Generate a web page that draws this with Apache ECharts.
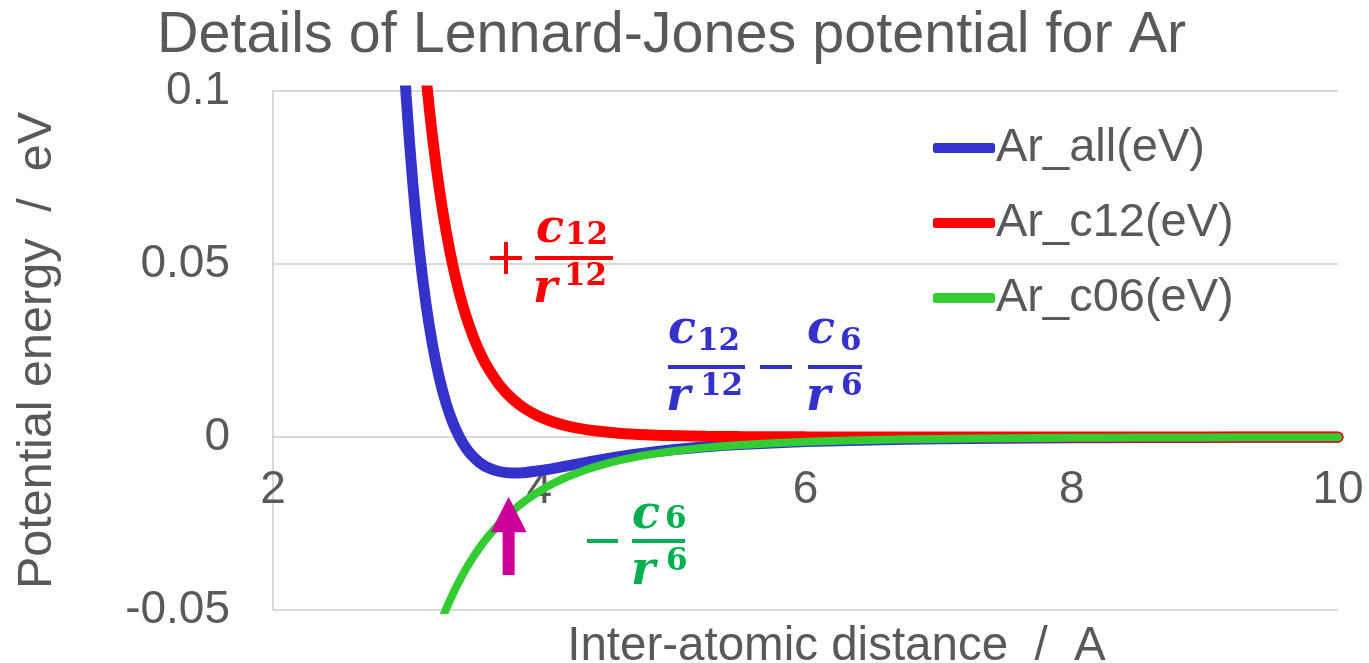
<!DOCTYPE html>
<html>
<head>
<meta charset="utf-8">
<title>Details of Lennard-Jones potential for Ar</title>
<script src="https://cdn.jsdelivr.net/npm/echarts@6/dist/echarts.min.js"></script>
<style>
  html, body { margin: 0; padding: 0; background: #ffffff; }
  #chart { width: 1369px; height: 663px; }
</style>
</head>
<body>
<div id="chart"></div>
<script>
// Inter-atomic distance (Angstrom)
const distance = [2.95, 3.0, 3.05, 3.1, 3.15, 3.2, 3.25, 3.3, 3.35, 3.4, 3.45, 3.5, 3.55, 3.6,
  3.7, 3.8, 3.9, 4.0, 4.1, 4.2, 4.3, 4.4, 4.6, 4.8, 5.0, 5.25, 5.5, 5.75, 6.0,
  6.5, 7.0, 7.5, 8.0, 8.5, 9.0, 9.5, 10.0];

// Total potential c12/r^12 - c6/r^6 (eV)
const arAll = [0.13104, 0.09865, 0.07336, 0.05363, 0.03824, 0.02626, 0.01696, 0.00976, 0.00423, 0.0,
  -0.00320, -0.00558, -0.00733, -0.00857, -0.00997, -0.01039, -0.01024, -0.00977, -0.00913,
  -0.00841, -0.00769, -0.00697, -0.00567, -0.00459, -0.00370, -0.00284, -0.00219, -0.00170,
  -0.001332, -0.000835, -0.000539, -0.000358, -0.000244, -0.000170, -0.000121, -0.000087, -0.000064];

// Repulsive part +c12/r^12 (eV)
const arC12 = [0.22855, 0.18680, 0.15319, 0.12604, 0.10402, 0.08611, 0.07149, 0.05952, 0.04970, 0.0416,
  0.03491, 0.02938, 0.02478, 0.02095, 0.01508, 0.01095, 0.00802, 0.00592, 0.00440,
  0.00330, 0.00248, 0.00189, 0.00111, 0.00066, 0.00041, 0.00023, 0.00013, 0.000076,
  0.0000456, 0.0000175, 0.0000072, 0.0000031, 0.0000014, 0.0000007, 0.0000004, 0.0000002, 0.0000001];

// Attractive part -c6/r^6 (eV)
const arC06 = [-0.09751, -0.08815, -0.07983, -0.07241, -0.06578, -0.05985, -0.05453, -0.04976, -0.04547, -0.0416,
  -0.03811, -0.03496, -0.03211, -0.02952, -0.02505, -0.02134, -0.01826, -0.01569, -0.01353,
  -0.01171, -0.01017, -0.00886, -0.00678, -0.00525, -0.00411, -0.00307, -0.00232, -0.00178,
  -0.001377, -0.000852, -0.000546, -0.000361, -0.000245, -0.000170, -0.000121, -0.0000874, -0.0000643];

const seriesNames = ['Ar_all(eV)', 'Ar_c12(eV)', 'Ar_c06(eV)'];
const xTicks = { min: 2, max: 10, interval: 2 };
const yTicks = { min: -0.05, max: 0.1, interval: 0.05 };

// Arrow marking the position of the potential minimum
const arrowAt = { r: 3.77, tip: -0.0173, headBase: -0.0275, tail: -0.0399 };

const TEXT = '#595959';
const GRID = '#d9d9d9';
const FONT = '"Liberation Sans", Arial, sans-serif';
const MATH = '"DejaVu Serif", "Liberation Serif", serif';

const pairs = (ys) => distance.map((x, i) => [x, ys[i]]);

const chart = echarts.init(document.getElementById('chart'), null, { renderer: 'canvas' });

chart.setOption({
  animation: false,
  backgroundColor: '#ffffff',
  title: {
    text: 'Details of Lennard-Jones potential for Ar',
    left: 152,
    top: 2,
    textStyle: { fontFamily: FONT, fontSize: 57.5, fontWeight: 'normal', color: TEXT }
  },
  grid: { left: 273, right: 31, top: 91, bottom: 53, containLabel: false, outerBoundsMode: 'none' },
  legend: {
    orient: 'vertical',
    left: 928,
    top: 118,
    itemWidth: 62,
    itemHeight: 10,
    itemGap: 25,
    icon: 'roundRect',
    data: seriesNames,
    textStyle: { fontFamily: FONT, fontSize: 47, color: TEXT, lineHeight: 50, padding: [0, 0, 0, -4] }
  },
  xAxis: {
    type: 'value',
    min: xTicks.min, max: xTicks.max, interval: xTicks.interval,
    name: 'Inter-atomic distance  /  A',
    nameLocation: 'middle',
    nameGap: 186,
    nameTextStyle: { fontFamily: FONT, fontSize: 47.5, color: TEXT, padding: [0, 0, 0, 62] },
    axisLine: { onZero: false, lineStyle: { color: GRID, width: 2 } },
    axisTick: { show: false },
    splitLine: { show: false },
    axisLabel: { fontFamily: FONT, fontSize: 46, color: TEXT, margin: 30 }
  },
  yAxis: {
    type: 'value',
    min: yTicks.min, max: yTicks.max, interval: yTicks.interval,
    name: 'Potential energy  /  eV',
    nameLocation: 'middle',
    nameGap: 211,
    nameTextStyle: { fontFamily: FONT, fontSize: 48.5, color: TEXT },
    axisLine: { show: true, onZero: false, lineStyle: { color: GRID, width: 2 } },
    axisTick: { show: false },
    splitLine: { show: true, lineStyle: { color: GRID, width: 2 } },
    axisLabel: { fontFamily: FONT, fontSize: 46, color: TEXT, margin: 43 }
  },
  series: [
    {
      name: seriesNames[0], type: 'line', data: pairs(arAll),
      showSymbol: false, smooth: 0.3, clip: true,
      lineStyle: { color: '#3333cc', width: 11, cap: 'round' },
      itemStyle: { color: '#3333cc' }
    },
    {
      name: seriesNames[1], type: 'line', data: pairs(arC12),
      showSymbol: false, smooth: 0.3, clip: true,
      lineStyle: { color: '#ff0000', width: 11, cap: 'round' },
      itemStyle: { color: '#ff0000' }
    },
    {
      name: seriesNames[2], type: 'line', data: pairs(arC06),
      showSymbol: false, smooth: 0.3, clip: true,
      lineStyle: { color: '#33cc33', width: 8, cap: 'round' },
      itemStyle: { color: '#33cc33' }
    }
  ]
});

// Move the x axis up so that it crosses the y axis at zero energy
const yZero = chart.convertToPixel({ yAxisIndex: 0 }, 0);
const yBottom = chart.convertToPixel({ yAxisIndex: 0 }, yTicks.min);
chart.setOption({ xAxis: { offset: yZero - yBottom } });

// --- formula annotations -------------------------------------------------
function letter(ch, x, cy, color) {
  return { type: 'text', x: x, y: cy, z: 50,
    style: { text: ch, fill: color, font: 'italic bold 46px ' + MATH,
      textAlign: 'left', textVerticalAlign: 'middle' } };
}
function digits(t, x, cy, color) {
  return { type: 'text', x: x, y: cy, z: 50,
    style: { text: t, fill: color, font: 'bold 31px ' + MATH,
      textAlign: 'left', textVerticalAlign: 'middle' } };
}
function bar(x1, x2, y, color) {
  return { type: 'rect', z: 50, shape: { x: x1, y: y - 2, width: x2 - x1, height: 4 },
    style: { fill: color } };
}
// fraction: c_sub over r^sup, laid out around the bar
function fraction(f, color) {
  return [
    bar(f.x1, f.x2, f.bar, color),
    letter('c', f.cx, f.cy, color),
    digits(f.sub, f.sx, f.sy, color),
    letter('r', f.rx, f.ry, color),
    digits(f.sup, f.px, f.py, color)
  ];
}

const RED = '#ff0000', BLUE = '#3333cc', GREEN = '#00b050';

const formulas = [].concat(
  // + c12 / r^12
  [bar(490, 522, 258, RED)],
  [{ type: 'rect', z: 50, shape: { x: 504, y: 242, width: 4, height: 32 }, style: { fill: RED } }],
  fraction({ x1: 535, x2: 613, bar: 258, cx: 536, cy: 230, sub: '12', sx: 565, sy: 236,
    rx: 533, ry: 290, sup: '12', px: 564, py: 277 }, RED),
  // c12 / r^12 - c6 / r^6
  fraction({ x1: 668, x2: 745, bar: 367, cx: 668, cy: 331, sub: '12', sx: 697, sy: 342,
    rx: 666, ry: 398, sup: '12', px: 700, py: 387 }, BLUE),
  [bar(760, 792, 367, BLUE)],
  fraction({ x1: 808, x2: 862, bar: 367, cx: 807, cy: 331, sub: '6', sx: 840, sy: 342,
    rx: 806, ry: 398, sup: '6', px: 841, py: 387 }, BLUE),
  // - c6 / r^6
  [bar(587, 618, 541, GREEN)],
  fraction({ x1: 632, x2: 685, bar: 541, cx: 632, cy: 516, sub: '6', sx: 665, sy: 520,
    rx: 631, ry: 572, sup: '6', px: 666, py: 562 }, GREEN)
);

// --- arrow pointing at the minimum ---------------------------------------
const tip = chart.convertToPixel({ gridIndex: 0 }, [arrowAt.r, arrowAt.tip]);
const base = chart.convertToPixel({ gridIndex: 0 }, [arrowAt.r, arrowAt.headBase]);
const tail = chart.convertToPixel({ gridIndex: 0 }, [arrowAt.r, arrowAt.tail]);
const ax = tip[0];
const arrow = {
  type: 'polygon', z: 60,
  shape: { points: [
    [ax, tip[1]], [ax + 18, base[1]], [ax + 6, base[1]], [ax + 6, tail[1]],
    [ax - 6, tail[1]], [ax - 6, base[1]], [ax - 18, base[1]]
  ] },
  style: { fill: '#cc0099' }
};

chart.setOption({ graphic: formulas.concat([arrow]) });
</script>
</body>
</html>
